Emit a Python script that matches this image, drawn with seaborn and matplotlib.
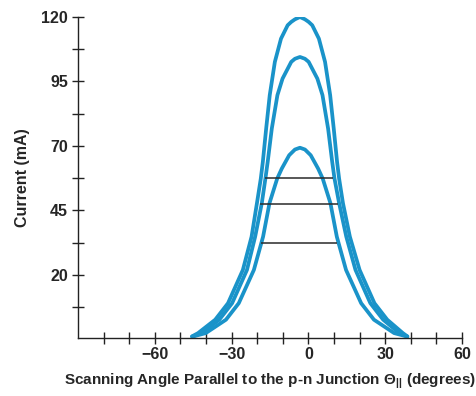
import numpy as np
import pandas as pd
import matplotlib
matplotlib.use("Agg")
import matplotlib.pyplot as plt
import seaborn as sns

# ---- data ----
x_120 = [-45.5, -43.1, -36.4, -31.4, -25.6, -22.2, -20.1, -18.6, -17.8, -16.5, -15.1, -13.1,
         -10.7, -8.1, -6.7, -5.25, -3.3, -1.35, 0.1, 1.5, 4.1, 6.5, 8.5, 9.9, 11.2, 12.0,
         13.5, 16.2, 20.0, 25.8, 30.8, 36.9, 38.7]
y_120 = [-3.9, -2.6, 2.6, 9.0, 21.9, 34.8, 47.8, 57.3, 63.8, 76.7, 89.7, 102.6,
         111.6, 116.8, 118.1, 119.1, 120.0, 119.1, 118.1, 116.8, 111.6, 102.6, 89.7, 76.7, 63.8, 57.3,
         47.8, 34.8, 21.9, 9.0, 2.6, -2.6, -3.9]

x_105 = [-45.4, -41.7, -34.8, -29.8, -24.0, -20.8, -18.2, -16.8, -15.9, -14.3, -12.1, -10.1,
         -6.7, -5.25, -3.3, -1.35, 0.1, 3.5, 5.5, 7.7, 9.3, 10.2, 12.0, 14.8, 18.4, 24.2,
         29.2, 35.5, 38.6]
y_105 = [-3.9, -2.6, 2.6, 9.0, 21.9, 34.8, 47.8, 57.3, 63.8, 76.7, 89.7, 96.1,
         102.6, 103.8, 104.5, 103.8, 102.6, 96.1, 89.7, 76.7, 63.8, 57.3, 47.8, 34.8, 21.9, 9.0,
         2.6, -2.6, -3.9]

x_69 = [-45.0, -40.1, -32.2, -27.2, -21.3, -17.7, -15.2, -12.2, -10.4, -7.5, -5.25,
        -3.3, -1.35, 0.9, 3.8, 5.6, 8.6, 11.1, 14.7, 20.6, 25.6, 33.5, 38.4]
y_69 = [-3.9, -2.6, 2.6, 9.0, 21.9, 34.8, 47.8, 57.3, 61.2, 66.4, 68.6,
        69.3, 68.6, 66.4, 61.2, 57.3, 47.8, 34.8, 21.9, 9.0, 2.6, -2.6, -3.9]

level_y = [57.7, 47.4, 32.5]
level_x0 = [-17.1, -19.0, -18.7]
level_x1 = [9.5, 11.4, 11.2]

x_ticks = [-60, -30, 0, 30, 60]
x_minor = [-80, -70, -50, -40, -20, -10, 10, 20, 40, 50]
y_ticks = [20, 45, 70, 95, 120]
y_minor = [7.5, 32.5, 57.5, 82.5, 107.5]

df = pd.concat([
    pd.DataFrame({"angle": x_120, "current": y_120, "curve": "120"}),
    pd.DataFrame({"angle": x_105, "current": y_105, "curve": "105"}),
    pd.DataFrame({"angle": x_69, "current": y_69, "curve": "69"}),
], ignore_index=True)

sns.set_style("ticks")
fam = ["Liberation Sans", "DejaVu Sans"]
plt.rcParams["font.family"] = fam
plt.rcParams["mathtext.fontset"] = "custom"
plt.rcParams["mathtext.rm"] = "Liberation Sans:bold"
plt.rcParams["mathtext.it"] = "Liberation Sans:bold"
plt.rcParams["mathtext.bf"] = "Liberation Sans:bold"

fig = plt.figure(figsize=(4.76, 3.96), dpi=100)
ax = fig.add_axes([78 / 476, 58 / 396, 384 / 476, 321 / 396])

blue = "#1a93c9"
sns.lineplot(data=df, x="angle", y="current", units="curve", estimator=None, sort=False,
             color=blue, lw=2.7, ax=ax, legend=False, solid_capstyle="round",
             solid_joinstyle="round")

ax.hlines(level_y, level_x0, level_x1, color="#2a2a2a", lw=1.1, zorder=3)

ax.set_xlim(-90, 60)
ax.set_ylim(-4.5, 120)
ax.set_xticks(x_ticks)
ax.set_xticks(x_minor, minor=True)
ax.set_yticks(y_ticks)
ax.set_yticks(y_minor, minor=True)
ax.set_xticklabels([f"{v}".replace("-", "\u2212") for v in x_ticks])
ax.set_yticklabels([str(v) for v in y_ticks])

for lab in ax.get_xticklabels() + ax.get_yticklabels():
    lab.set_fontweight("bold")
    lab.set_fontsize(11.5)

ax.tick_params(axis="both", which="both", direction="inout", length=8.5, width=1.0,
               color="#222222", pad=3)
ax.tick_params(axis="x", which="major", pad=2)

for s in ["top", "right"]:
    ax.spines[s].set_visible(False)
for s in ["left", "bottom"]:
    ax.spines[s].set_linewidth(1.0)
    ax.spines[s].set_color("#222222")

ax.set_xlabel("Scanning Angle Parallel to the p-n Junction \u0398$_{||}$ (degrees)",
              fontsize=11, fontweight="bold", labelpad=7)
ax.set_ylabel("Current (mA)", fontsize=11.5, fontweight="bold", labelpad=8)

fig.savefig("out.png", dpi=100)
